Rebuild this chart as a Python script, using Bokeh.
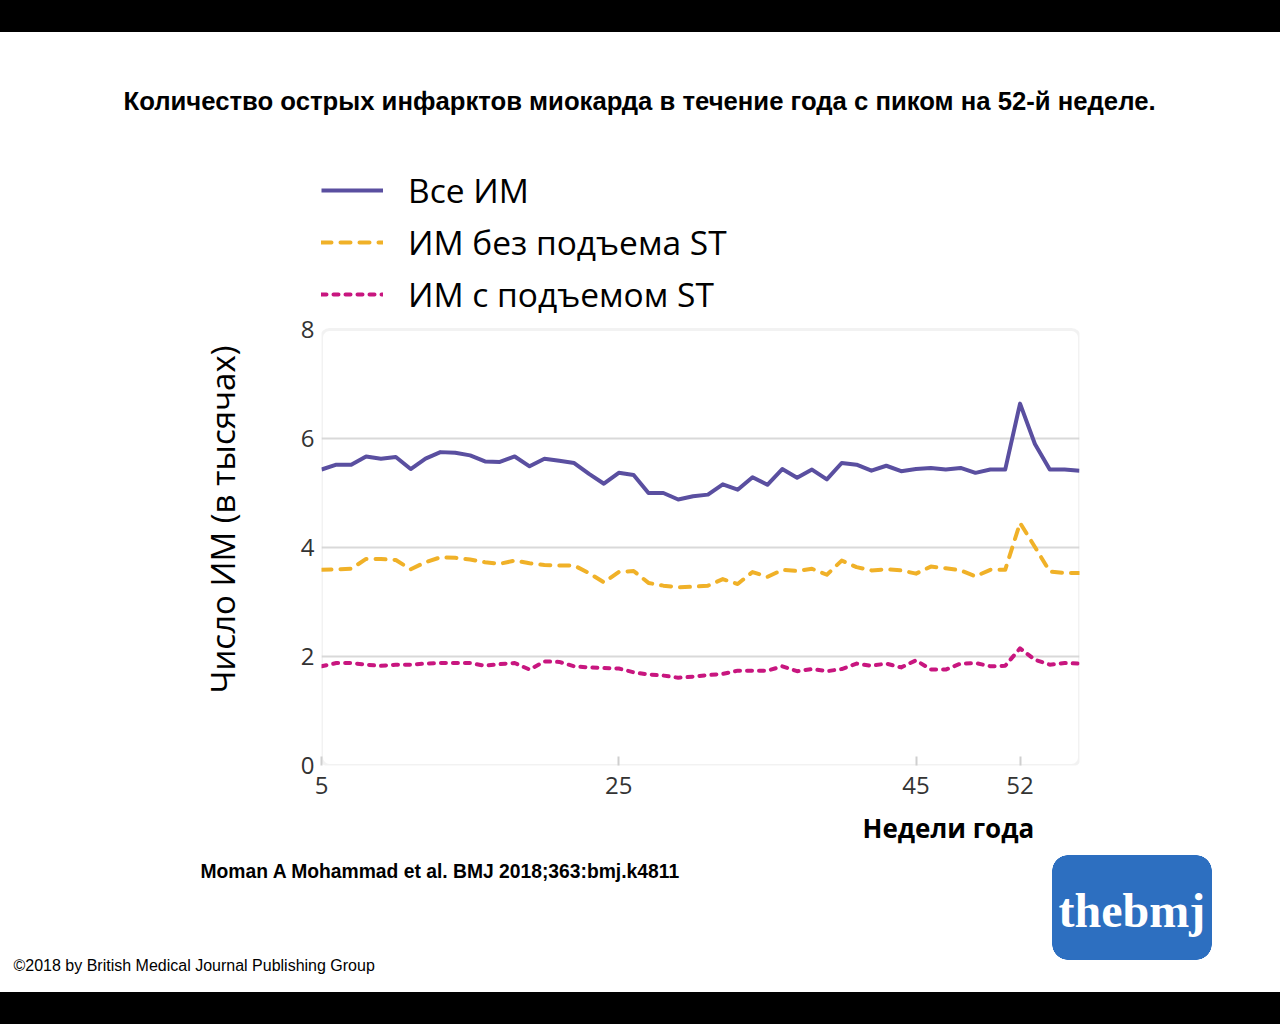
from bokeh.plotting import figure
from bokeh.models import Range1d, FixedTicker, Legend, LegendItem, Title, BoxAnnotation
from bokeh.embed import file_html
from bokeh.resources import INLINE

# ---- data ----
weeks = [5, 6, 7, 8, 9, 10, 11, 12, 13, 14, 15, 16, 17, 18, 19, 20, 21, 22, 23, 24,
         25, 26, 27, 28, 29, 30, 31, 32, 33, 34, 35, 36, 37, 38, 39, 40, 41, 42, 43, 44,
         45, 46, 47, 48, 49, 50, 51, 52, 53, 54, 55, 56]
all_mi = [5.43, 5.52, 5.52, 5.67, 5.63, 5.66, 5.44, 5.63, 5.75, 5.74,
          5.69, 5.58, 5.57, 5.67, 5.49, 5.63, 5.59, 5.55, 5.35, 5.17,
          5.37, 5.33, 5.00, 5.00, 4.88, 4.94, 4.97, 5.16, 5.06, 5.29,
          5.15, 5.44, 5.28, 5.43, 5.25, 5.55, 5.52, 5.41, 5.50, 5.40,
          5.44, 5.46, 5.43, 5.46, 5.37, 5.43, 5.43, 6.64, 5.90, 5.43,
          5.43, 5.41]
nstemi = [3.59, 3.60, 3.61, 3.79, 3.79, 3.77, 3.60, 3.73, 3.82, 3.81,
          3.78, 3.73, 3.70, 3.76, 3.71, 3.68, 3.67, 3.67, 3.53, 3.36,
          3.55, 3.57, 3.35, 3.30, 3.27, 3.28, 3.30, 3.42, 3.33, 3.55,
          3.46, 3.59, 3.57, 3.61, 3.50, 3.76, 3.64, 3.58, 3.60, 3.58,
          3.52, 3.65, 3.62, 3.58, 3.47, 3.59, 3.59, 4.45, 4.01, 3.56,
          3.53, 3.53]
stemi = [1.82, 1.88, 1.88, 1.85, 1.83, 1.85, 1.85, 1.87, 1.88, 1.88,
         1.88, 1.83, 1.86, 1.88, 1.76, 1.91, 1.90, 1.82, 1.80, 1.79,
         1.78, 1.71, 1.67, 1.65, 1.61, 1.63, 1.66, 1.68, 1.74, 1.74,
         1.74, 1.82, 1.73, 1.77, 1.73, 1.77, 1.87, 1.83, 1.87, 1.80,
         1.93, 1.76, 1.76, 1.87, 1.88, 1.82, 1.83, 2.15, 1.94, 1.85,
         1.88, 1.87]
series_names = ["Все ИМ", "ИМ без подъема ST", "ИМ с подъемом ST"]
x_ticks = [5, 25, 45, 52]
y_ticks = [0, 2, 4, 6, 8]
x_lim = [5, 56]
y_lim = [0, 8]

title_text = "Количество острых инфарктов миокарда в течение года с пиком на 52-й неделе."
y_title = "Число ИМ (в тысячах)"
x_title = "Недели года"
citation = "Moman A Mohammad et al. BMJ 2018;363:bmj.k4811"
copyright_text = "©2018 by British Medical Journal Publishing Group"
logo_text = "thebmj"

PURPLE = "#5a4fa0"
ORANGE = "#f0b128"
MAGENTA = "#c8167f"
LOGO_BLUE = "#2d6fc0"
FONT = "Open Sans"

W, H = 1280, 1024
FL, FR, FT, FB = 321, 1079, 329, 765   # chart box edges in page pixels
TOPF = 150                               # frame reaches up to hold the legend

# the frame extends above the chart box so the legend can live inside it
px_per_unit = (FB - FT) / (y_lim[1] - y_lim[0])
y_top = y_lim[1] + (FT - TOPF) / px_per_unit

p = figure(width=W, height=H, output_backend="svg", toolbar_location=None, title=None,
           x_range=Range1d(x_lim[0], x_lim[1]), y_range=Range1d(y_lim[0], y_top),
           min_border_left=FL, min_border_right=W - FR,
           min_border_top=TOPF, min_border_bottom=H - FB)
p.background_fill_color = "white"
p.border_fill_alpha = 0
p.outline_line_color = None


def rect(x, y, w, h):
    return f"linear-gradient({LOGO_BLUE}, {LOGO_BLUE}) {x}px {y}px / {w}px {h}px no-repeat"


def corner(x, y, r):
    return (f"radial-gradient(circle {r}px at {r}px {r}px, {LOGO_BLUE} {r - 0.5}px, "
            f"transparent {r}px) {x}px {y}px / {2 * r}px {2 * r}px no-repeat")


LX, LY, LW, LH, LR = 1052, 855, 160, 105, 16
layers = [rect(LX, LY + LR, LW, LH - 2 * LR), rect(LX + LR, LY, LW - 2 * LR, LH),
          corner(LX, LY, LR), corner(LX + LW - 2 * LR, LY, LR),
          corner(LX, LY + LH - 2 * LR, LR), corner(LX + LW - 2 * LR, LY + LH - 2 * LR, LR),
          "linear-gradient(to bottom, #000 0px, #000 32px, #fff 32px, #fff 992px, "
          "#000 992px, #000 1024px)"]
p.styles = {"background": ", ".join(layers)}

# chart box with rounded corners
p.add_layout(BoxAnnotation(left=x_lim[0], right=x_lim[1], bottom=y_lim[0], top=y_lim[1],
                           fill_alpha=0, line_color="#d4d4d4", line_width=3,
                           border_radius=8, level="underlay"))

p.xgrid.grid_line_color = None
p.ygrid.grid_line_color = "#d9d9d9"
p.ygrid.grid_line_width = 2
p.ygrid.ticker = FixedTicker(ticks=y_ticks[1:-1])

p.xaxis.ticker = FixedTicker(ticks=x_ticks)
p.xaxis.axis_line_color = None
p.xaxis.major_tick_in = 9
p.xaxis.major_tick_out = 0
p.xaxis.major_tick_line_color = "#cfcfcf"
p.xaxis.major_tick_line_width = 2
p.xaxis.minor_tick_line_color = None
p.xaxis.major_label_text_font = FONT
p.xaxis.major_label_text_font_size = "24px"
p.xaxis.major_label_text_color = "#333333"
p.xaxis.major_label_standoff = 11

p.yaxis.ticker = FixedTicker(ticks=y_ticks)
p.yaxis.axis_line_color = None
p.yaxis.major_tick_in = 0
p.yaxis.major_tick_out = 0
p.yaxis.major_tick_line_color = None
p.yaxis.minor_tick_line_color = None
p.yaxis.major_label_text_font = FONT
p.yaxis.major_label_text_font_size = "24px"
p.yaxis.major_label_text_color = "#333333"
p.yaxis.major_label_standoff = 7

r1 = p.line(weeks, all_mi, line_color=PURPLE, line_width=4, line_join="round")
r2 = p.line(weeks, nstemi, line_color=ORANGE, line_width=4, line_dash="10 9",
            line_cap="round", line_join="round")
r3 = p.line(weeks, stemi, line_color=MAGENTA, line_width=4, line_dash="5 7",
            line_cap="round", line_join="round")

legend = Legend(items=[LegendItem(label=series_names[0], renderers=[r1]),
                       LegendItem(label=series_names[1], renderers=[r2]),
                       LegendItem(label=series_names[2], renderers=[r3])],
                location=(0, FB - 317), margin=0, padding=0, orientation="vertical",
                border_line_alpha=0, background_fill_alpha=0,
                glyph_width=62, glyph_height=46, label_height=46, spacing=6,
                label_standoff=25, label_text_font=FONT,
                label_text_font_size="33.5px", label_text_color="black")
p.add_layout(legend, "center")

# main title above the frame
p.add_layout(Title(text=title_text, align="left", offset=123 - FL, vertical_align="bottom",
                   standoff=71, text_font="Liberation Sans", text_font_size="25.7px",
                   text_font_style="bold", text_color="black"), "above")

# y-axis title (rotated, in the left panel)
p.add_layout(Title(text=y_title, align="left", offset=FB - 693, vertical_align="bottom",
                   standoff=105, text_font=FONT, text_font_size="33px",
                   text_font_style="normal", text_color="black"), "left")

# texts under the chart, stacked below the x axis
p.add_layout(Title(text=x_title, align="left", offset=862 - FL, vertical_align="top",
                   standoff=26, text_font=FONT, text_font_size="26px",
                   text_font_style="bold", text_color="black"), "below")
p.add_layout(Title(text=citation, align="left", offset=200 - FL, vertical_align="top",
                   standoff=0, text_font="Liberation Sans", text_font_size="19.3px",
                   text_font_style="bold", text_color="black"), "below")
p.add_layout(Title(text=logo_text, align="left", offset=1058 - FL, vertical_align="top",
                   standoff=0, text_font="Liberation Serif", text_font_size="48px",
                   text_font_style="bold", text_color="white"), "below")
p.add_layout(Title(text=copyright_text, align="left", offset=13 - FL, vertical_align="top",
                   standoff=37, text_font="Liberation Sans", text_font_size="16px",
                   text_font_style="normal", text_color="black"), "below")

open("out.html", "w").write(file_html(p, INLINE))
